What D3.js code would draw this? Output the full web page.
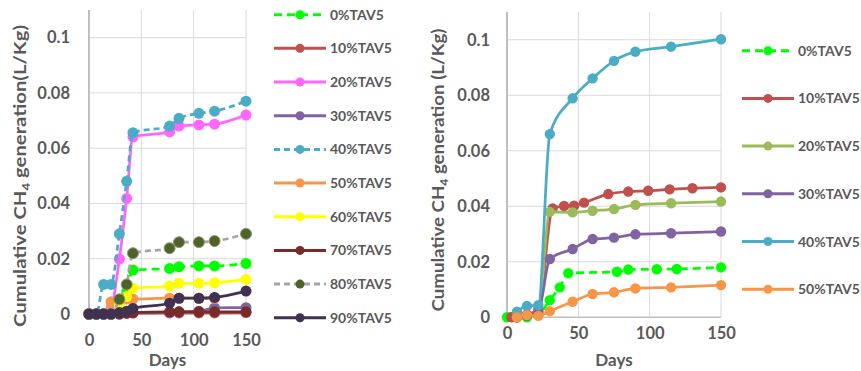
<!DOCTYPE html>
<html>
<head>
<meta charset="utf-8">
<script src="https://cdn.jsdelivr.net/npm/d3@7"></script>
<style>
  body { margin: 0; background: #fff; }
  text { font-family: Lato, "Open Sans", sans-serif; font-weight: bold; fill: #595959; }
</style>
</head>
<body>
<div id="chart"></div>
<script>
// ---- data: left chart (0-90% TAV5) ----
const leftNames = ["0%TAV5", "10%TAV5", "20%TAV5", "30%TAV5", "40%TAV5", "50%TAV5", "60%TAV5", "70%TAV5", "80%TAV5", "90%TAV5"];
const leftDays = [0, 7, 14, 21, 29, 36, 42, 77, 86, 105, 120, 150];
const left0  = [0, 0, 0, 0, 0.004, 0.008, 0.0159, 0.0165, 0.0171, 0.0174, 0.0174, 0.0183];
const left10 = [0, 0, 0, 0, 0.0003, 0.0003, 0.0003, 0.0004, 0.0004, 0.0004, 0.0004, 0.0005];
const left20 = [0, 0, 0, 0.002, 0.0199, 0.0418, 0.0641, 0.0659, 0.068, 0.0684, 0.0687, 0.072];
const left30 = [0, 0, 0, 0, 0, 0.0003, 0.0005, 0.0005, 0.0008, 0.001, 0.0022, 0.0023];
const left40 = [0, 0, 0.0107, 0.0107, 0.029, 0.048, 0.0656, 0.068, 0.0708, 0.0726, 0.0734, 0.077];
const left50 = [0, 0, 0, 0.0044, 0.005, 0.0054, 0.0054, 0.0057, 0.0057, 0.0057, 0.0057, null];
const left60 = [0, 0, 0, 0, 0.003, 0.0063, 0.0093, 0.0101, 0.0111, 0.0111, 0.0113, 0.0125];
const left70 = [0, 0, 0, 0, 0, 0.0003, 0.0005, 0.0008, 0.0008, 0.0008, 0.0008, 0.0008];
const left80 = [0, 0, 0, 0, 0.0053, 0.0107, 0.022, 0.0238, 0.026, 0.026, 0.0264, 0.029];
const left90 = [0, 0, 0, 0, 0.0005, 0.001, 0.002, 0.0039, 0.0057, 0.0057, 0.006, 0.0083];

// ---- data: right chart (0-50% TAV5) ----
const rightNames = ["0%TAV5", "10%TAV5", "20%TAV5", "30%TAV5", "40%TAV5", "50%TAV5"];
const rightDays = [7, 14, 22, 30, 46, 60, 75, 90, 115, 150];
const right0Days = [0, 7, 14, 22, 30, 37, 43, 77, 85, 105, 119, 150];
const right10Days = [3, 7, 14, 22, 32, 40, 47, 54, 71, 85, 99, 114, 130, 150];
const right0  = [0, 0, 0, 0.001, 0.0062, 0.0108, 0.0159, 0.0164, 0.0172, 0.0173, 0.0174, 0.018];
const right10 = [0, 0.0005, 0.001, 0.003, 0.0392, 0.0401, 0.0402, 0.0413, 0.0444, 0.0453, 0.0456, 0.0461, 0.0465, 0.0468];
const right20 = [0, 0.0005, 0.002, 0.038, 0.0378, 0.0384, 0.039, 0.0405, 0.0411, 0.0417];
const right30 = [0, 0.0005, 0.002, 0.021, 0.0246, 0.0282, 0.0287, 0.0299, 0.0303, 0.0309];
const right40 = [0.002, 0.0041, 0.0044, 0.066, 0.0789, 0.0861, 0.0924, 0.0957, 0.0975, 0.1002];
const right50 = [0, 0.0008, 0.0005, 0.0022, 0.0056, 0.0084, 0.009, 0.0104, 0.0108, 0.0116];

const yTicks = [0, 0.02, 0.04, 0.06, 0.08, 0.1];
const xTicks = [0, 50, 100, 150];

// series styles (colour, dash, marker)
const leftStyle = [
  {c: "#00FF00", m: "#00FF00", dash: "8,5"},
  {c: "#C0504D", m: "#C0504D"},
  {c: "#FF66FF", m: "#FF66FF"},
  {c: "#8064A2", m: "#8064A2"},
  {c: "#4BACC6", m: "#4BACC6", dash: "6,4"},
  {c: "#F79646", m: "#F79646"},
  {c: "#FFFF00", m: "#FFFF00"},
  {c: "#772C2A", m: "#772C2A"},
  {c: "#A6A6A6", m: "#4F6228", ms: "#8C9A78", dash: "6,4"},
  {c: "#403152", m: "#403152"}
];
const rightStyle = [
  {c: "#00FF00", m: "#00FF00", dash: "8,5"},
  {c: "#C0504D", m: "#C0504D"},
  {c: "#9BBB59", m: "#9BBB59"},
  {c: "#8064A2", m: "#8064A2"},
  {c: "#4BACC6", m: "#4BACC6"},
  {c: "#F79646", m: "#F79646"}
];

const zip = (days, vals) => days.map((d, i) => ({day: d, v: vals[i]})).filter(p => p.v != null);

const leftSeries = [left0, left10, left20, left30, left40, left50, left60, left70, left80, left90]
  .map((vals, i) => ({name: leftNames[i], points: zip(leftDays, vals), style: leftStyle[i]}));
const rightSeries = [
  zip(right0Days, right0), zip(right10Days, right10), zip(rightDays, right20),
  zip(rightDays, right30), zip(rightDays, right40), zip(rightDays, right50)
].map((pts, i) => ({name: rightNames[i], points: pts, style: rightStyle[i]}));

const svg = d3.select("#chart").append("svg")
  .attr("width", 861)
  .attr("height", 371)
  .style("display", "block");

function drawChart(cfg) {
  const x = d3.scaleLinear().domain([0, 150]).range([cfg.x0, cfg.x1]);
  const y = d3.scaleLinear().domain([0, 0.11]).range([cfg.y0, cfg.y1]);
  const g = svg.append("g");

  // gridlines
  g.selectAll(".hgrid").data(yTicks.slice(1)).enter().append("line")
    .attr("x1", cfg.x0).attr("x2", cfg.x1)
    .attr("y1", d => y(d)).attr("y2", d => y(d))
    .attr("stroke", "#D9D9D9").attr("stroke-width", 1);
  g.selectAll(".vgrid").data(xTicks.slice(1)).enter().append("line")
    .attr("x1", d => x(d)).attr("x2", d => x(d))
    .attr("y1", cfg.y0).attr("y2", cfg.y1)
    .attr("stroke", "#D9D9D9").attr("stroke-width", 1);

  // axis lines
  g.append("line").attr("x1", cfg.x0).attr("x2", cfg.x1).attr("y1", cfg.y0).attr("y2", cfg.y0)
    .attr("stroke", "#BFBFBF").attr("stroke-width", 1.5);
  g.append("line").attr("x1", cfg.x0).attr("x2", cfg.x0).attr("y1", cfg.y0).attr("y2", cfg.y1)
    .attr("stroke", "#BFBFBF").attr("stroke-width", 2);

  // tick labels
  const yAxis = g.append("g").attr("transform", `translate(${cfg.x0},0)`)
    .call(d3.axisLeft(y).tickValues(yTicks).tickSize(0).tickPadding(cfg.yPad)
      .tickFormat(d => d === 0 ? "0" : String(+d.toFixed(2))));
  const xAxis = g.append("g").attr("transform", `translate(0,${cfg.y0})`)
    .call(d3.axisBottom(x).tickValues(xTicks).tickSize(0).tickPadding(cfg.xPad));
  [yAxis, xAxis].forEach(a => {
    a.select(".domain").remove();
    a.selectAll("text").style("font-size", "16.5px").style("font-family", "Lato, sans-serif")
      .style("font-weight", "bold").attr("fill", "#595959");
  });

  // axis titles
  g.append("text")
    .attr("x", (cfg.x0 + cfg.x1) / 2).attr("y", 366)
    .attr("text-anchor", "middle").style("font-size", "17px")
    .text("Days");
  const yt = g.append("text")
    .attr("transform", `translate(${cfg.titleX},${cfg.titleY}) rotate(-90)`)
    .attr("text-anchor", "middle").style("font-size", "17px")
    .attr("textLength", cfg.titleLen).attr("lengthAdjust", "spacingAndGlyphs");
  yt.append("tspan").text("Cumulative CH");
  yt.append("tspan").attr("dy", 4).style("font-size", "11px").text("4");
  yt.append("tspan").attr("dy", -4).text(cfg.titleRest);

  // series
  const line = d3.line().x(p => x(p.day)).y(p => y(p.v)).curve(d3.curveMonotoneX);
  cfg.series.forEach(s => {
    const sg = g.append("g");
    sg.append("path").datum(s.points)
      .attr("d", line).attr("fill", "none")
      .attr("stroke", s.style.c).attr("stroke-width", 2.75)
      .attr("stroke-dasharray", s.style.dash || null)
      .attr("stroke-linejoin", "round");
    sg.selectAll("circle").data(s.points).enter().append("circle")
      .attr("cx", p => x(p.day)).attr("cy", p => y(p.v))
      .attr("r", cfg.r)
      .attr("fill", s.style.m)
      .attr("stroke", s.style.ms || "none").attr("stroke-width", 1);
  });

  // legend
  const lg = g.append("g");
  cfg.series.forEach((s, i) => {
    const ly = cfg.legY + i * cfg.legStep;
    lg.append("line").attr("x1", cfg.legX).attr("x2", cfg.legX + 52)
      .attr("y1", ly).attr("y2", ly)
      .attr("stroke", s.style.c).attr("stroke-width", 3)
      .attr("stroke-dasharray", s.style.dash || null);
    lg.append("circle").attr("cx", cfg.legX + 26).attr("cy", ly).attr("r", 4.5)
      .attr("fill", s.style.m);
    lg.append("text").attr("x", cfg.legX + 56).attr("y", ly + 5)
      .style("font-size", "14px").text(s.name);
  });
}

drawChart({
  series: leftSeries, x0: 89, x1: 246, y0: 314, y1: 10, r: 5.5,
  yPad: 19, xPad: 20, titleX: 26, titleY: 176, titleLen: 302, titleRest: " generation(L/Kg)",
  legX: 274, legY: 14.7, legStep: 33.67
});
drawChart({
  series: rightSeries, x0: 507, x1: 721, y0: 317.3, y1: 12, r: 5.2,
  yPad: 17, xPad: 10, titleX: 444, titleY: 170, titleLen: 283, titleRest: " generation (L/Kg)",
  legX: 742, legY: 50.7, legStep: 47.7
});
</script>
</body>
</html>
